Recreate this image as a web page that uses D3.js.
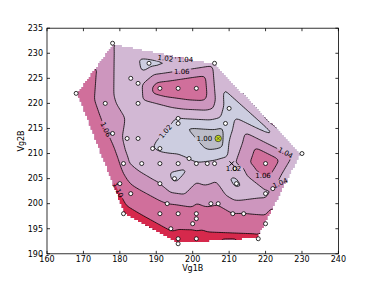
<!DOCTYPE html>
<html>
<head>
<meta charset="utf-8">
<script src="https://cdn.jsdelivr.net/npm/d3@7"></script>
<style>
  body { margin: 0; background: #fff; }
  text { font-family: "DejaVu Sans", sans-serif; }
</style>
</head>
<body>
<div id="chart"></div>
<script>
var vg1 = [178, 168, 188, 183, 185, 191, 196, 201, 206, 176, 185, 196, 196, 178, 182, 185, 210, 209, 189, 191,
           207, 186, 181, 191, 196, 199, 201, 204, 206, 195, 191, 180, 183, 193, 181, 191, 196, 201, 201, 200,
           194, 196, 196, 201, 205, 207, 211, 214, 220, 218, 210.7, 211.6, 212, 220, 230, 220, 222];
var vg2 = [232, 222, 228, 225, 224, 223, 223, 223, 228, 220, 220, 217, 216, 214, 213, 213, 219, 216, 211, 211,
           213, 208, 208, 208, 208, 209, 208, 208, 208, 205, 204, 204, 202, 200, 198, 198, 198, 198, 197, 196,
           195, 193, 192, 193, 200, 200, 198, 198, 196, 193, 208, 207, 204, 208, 210, 202, 203];
var ratio = [1.041, 1.085, 1.012, 1.03, 1.032, 1.075, 1.08, 1.085, 1.035, 1.045, 1.03, 1.02, 1.004, 1.05, 1.035, 1.028, 1.008, 1.007, 1.02, 1.018,
             0.982, 1.03, 1.045, 1.028, 1.025, 1.02, 1.022, 1.024, 1.026, 1.015, 1.04, 1.085, 1.07, 1.06, 1.12, 1.075, 1.075, 1.07, 1.075, 1.09,
             1.095, 1.115, 1.12, 1.115, 1.055, 1.058, 1.06, 1.06, 1.07, 1.11, 1.035, 1.025, 1.015, 1.082, 1.025, 1.035, 1.04];
// marker kind per point: 0 circle, 1 highlighted, 2 cross
var kind = vg1.map(function() { return 0 });
kind[20] = 1;
kind[50] = 2;

var levels = [1.00, 1.02, 1.04, 1.06, 1.10];
var bandColors = ["#bcbcc8", "#cccde0", "#d2b8d4", "#cd96be", "#d06f9b", "#d6294c"];

// contour labels: level, rough Vg1B, rough Vg2B
var labLevel = [1.02, 1.04, 1.06, 1.02, 1.00, 1.06, 1.10, 1.04, 1.06, 1.04, 1.02];
var labX = [192.5, 197.6, 197, 191.8, 203.2, 176, 179.5, 225.6, 219.7, 224.2, 211.2];
var labY = [229, 227.8, 226.3, 215, 212.9, 214.7, 202.7, 210.5, 206.1, 203.2, 207];

var xTicks = d3.range(160, 241, 10);
var yTicks = d3.range(190, 236, 5);

var width = 376, height = 282;
var x = d3.scaleLinear().domain([160, 240]).range([47, 338.4]);
var y = d3.scaleLinear().domain([190, 235]).range([253.8, 28.2]);

var svg = d3.select("#chart").append("svg")
  .attr("width", width)
  .attr("height", height);

var pts = vg1.map(function(d, i) { return [d, vg2[i], ratio[i]] });
var delaunay = d3.Delaunay.from(pts, function(d) { return d[0] }, function(d) { return d[1] });
var tri = delaunay.triangles;

function interp(px, py) {
  for (var t = 0; t < tri.length; t += 3) {
    var a = pts[tri[t]], b = pts[tri[t + 1]], c = pts[tri[t + 2]];
    var det = (b[1] - c[1]) * (a[0] - c[0]) + (c[0] - b[0]) * (a[1] - c[1]);
    if (Math.abs(det) < 1e-12) continue;
    var l1 = ((b[1] - c[1]) * (px - c[0]) + (c[0] - b[0]) * (py - c[1])) / det;
    var l2 = ((c[1] - a[1]) * (px - c[0]) + (a[0] - c[0]) * (py - c[1])) / det;
    var l3 = 1 - l1 - l2;
    if (l1 >= -1e-9 && l2 >= -1e-9 && l3 >= -1e-9) return l1 * a[2] + l2 * b[2] + l3 * c[2];
  }
  return null;
}

// regular grid over the data, masked outside the hull
var gx0 = 164, gy0 = 188, dx = 0.5, dy = 0.4;
var nx = 141, ny = 121;
var grid = new Array(nx * ny), inside = new Uint8Array(nx * ny);
for (var j = 0; j < ny; j++) {
  for (var i = 0; i < nx; i++) {
    var px = gx0 + i * dx, py = gy0 + j * dy;
    var v = interp(px, py);
    if (v === null) {
      v = pts[delaunay.find(px, py)][2];
    } else {
      inside[i + j * nx] = 1;
    }
    grid[i + j * nx] = v;
  }
}

// light smoothing so the lines round off a bit
function blur(g) {
  var out = g.slice();
  for (var pass = 0; pass < 2; pass++) {
    var tmp = out.slice();
    for (var j = 0; j < ny; j++) for (var i = 1; i < nx - 1; i++) {
      var k = i + j * nx;
      tmp[k] = (out[k - 1] + 2 * out[k] + out[k + 1]) / 4;
    }
    for (var j = 1; j < ny - 1; j++) for (var i = 0; i < nx; i++) {
      var k = i + j * nx;
      out[k] = (tmp[k - nx] + 2 * tmp[k] + tmp[k + nx]) / 4;
    }
  }
  return out;
}
grid = blur(grid);

function gxPix(c) { return x(gx0 + c * dx) }
function gyPix(c) { return y(gy0 + c * dy) }

var proj = d3.geoTransform({
  point: function(cx, cy) { this.stream.point(gxPix(cx - 0.5), gyPix(cy - 0.5)) }
});
var path = d3.geoPath(proj);

// clip made of the unmasked cells
var clipD = "";
for (var j = 0; j < ny - 1; j++) {
  var start = -1;
  for (var i = 0; i <= nx - 1; i++) {
    var ok = i < nx - 1 && inside[i + j * nx] && inside[i + 1 + j * nx] &&
      inside[i + (j + 1) * nx] && inside[i + 1 + (j + 1) * nx];
    if (ok && start < 0) start = i;
    if (!ok && start >= 0) {
      var x0 = gxPix(start), x1 = gxPix(i), y0 = gyPix(j + 1), y1 = gyPix(j);
      clipD += "M" + x0 + "," + (y0 - 0.3) + "H" + x1 + "V" + (y1 + 0.3) + "H" + x0 + "Z";
      start = -1;
    }
  }
}

var defs = svg.append("defs");
defs.append("clipPath").attr("id", "hull")
  .append("path").attr("d", clipD);

var contours = d3.contours().size([nx, ny]).thresholds(levels)(grid);

var plot = svg.append("g").attr("clip-path", "url(#hull)");

plot.append("rect")
  .attr("x", 40).attr("y", 20).attr("width", 310).attr("height", 240)
  .attr("fill", bandColors[0]);

plot.selectAll(".band")
  .data(contours)
  .enter().append("path")
  .attr("class", "band")
  .attr("d", path)
  .attr("fill", function(d, i) { return bandColors[i + 1] });

// label placement: rotate along the nearest stretch of the matching contour
function ringPoints(mp) {
  var rings = [];
  mp.coordinates.forEach(function(poly) {
    poly.forEach(function(r) {
      rings.push(r.map(function(p) { return [gxPix(p[0] - 0.5), gyPix(p[1] - 0.5)] }));
    });
  });
  return rings;
}

var labels = labLevel.map(function(lv, k) {
  var c = contours[levels.indexOf(lv)];
  var tx = x(labX[k]), ty = y(labY[k]);
  var best = null, bd = Infinity;
  ringPoints(c).forEach(function(r) {
    r.forEach(function(p, n) {
      var d = (p[0] - tx) * (p[0] - tx) + (p[1] - ty) * (p[1] - ty);
      if (d < bd) { bd = d; best = [r, n]; }
    });
  });
  var lx = tx, ly = ty, ang = 0;
  if (best) {
    var r = best[0], n = best[1], m = r.length;
    var p0 = r[(n - 3 + m) % m], p1 = r[(n + 3) % m];
    ang = Math.atan2(p1[1] - p0[1], p1[0] - p0[0]) * 180 / Math.PI;
    if (ang > 90) ang -= 180;
    if (ang < -90) ang += 180;
    if (bd < 25) { lx = r[n][0]; ly = r[n][1]; }
    if (m < 120) ang = 0;
  }
  return { text: lv.toFixed(2), x: lx, y: ly, angle: ang };
});

var mask = defs.append("mask").attr("id", "gaps");
mask.append("rect").attr("x", 0).attr("y", 0).attr("width", width).attr("height", height).attr("fill", "#fff");
mask.selectAll("rect.gap")
  .data(labels)
  .enter().append("rect")
  .attr("class", "gap")
  .attr("x", -9.5).attr("y", -3.5).attr("width", 19).attr("height", 7)
  .attr("fill", "#000")
  .attr("transform", function(d) { return "translate(" + d.x + "," + d.y + ") rotate(" + d.angle + ")" });

plot.append("g").attr("mask", "url(#gaps)")
  .selectAll(".line")
  .data(contours)
  .enter().append("path")
  .attr("class", "line")
  .attr("d", path)
  .attr("fill", "none")
  .attr("stroke", "#000")
  .attr("stroke-width", 0.8);

// measured points
var marks = svg.append("g");
pts.forEach(function(p, i) {
  var cx = x(p[0]), cy = y(p[1]);
  if (kind[i] === 2) {
    marks.append("path")
      .attr("d", "M" + (cx - 2.2) + "," + (cy - 2.2) + "L" + (cx + 2.2) + "," + (cy + 2.2) +
        "M" + (cx - 2.2) + "," + (cy + 2.2) + "L" + (cx + 2.2) + "," + (cy - 2.2))
      .attr("stroke", "#000").attr("stroke-width", 1);
  } else if (kind[i] === 1) {
    marks.append("circle").attr("cx", cx).attr("cy", cy).attr("r", 3.2)
      .attr("fill", "#c6dc1c").attr("stroke", "#333").attr("stroke-width", 0.8);
    marks.append("path")
      .attr("d", "M" + (cx - 1.4) + "," + (cy - 1.4) + "L" + (cx + 1.4) + "," + (cy + 1.4) +
        "M" + (cx - 1.4) + "," + (cy + 1.4) + "L" + (cx + 1.4) + "," + (cy - 1.4))
      .attr("stroke", "#333").attr("stroke-width", 0.7);
  } else {
    marks.append("circle").attr("cx", cx).attr("cy", cy).attr("r", 2)
      .attr("fill", "#fff").attr("stroke", "#000").attr("stroke-width", 0.8);
  }
});

svg.selectAll(".clabel")
  .data(labels)
  .enter().append("text")
  .attr("class", "clabel")
  .attr("transform", function(d) { return "translate(" + d.x + "," + d.y + ") rotate(" + d.angle + ")" })
  .attr("text-anchor", "middle")
  .attr("dy", "0.35em")
  .attr("font-size", 7)
  .text(function(d) { return d.text });

// frame and ticks (matplotlib style, inward on all sides)
var axes = svg.append("g").attr("stroke", "#000").attr("stroke-width", 0.8);
axes.append("rect")
  .attr("x", 47).attr("y", 28.2).attr("width", 291.4).attr("height", 225.6)
  .attr("fill", "none");
xTicks.forEach(function(t) {
  axes.append("line").attr("x1", x(t)).attr("x2", x(t)).attr("y1", 253.8).attr("y2", 250.8);
  axes.append("line").attr("x1", x(t)).attr("x2", x(t)).attr("y1", 28.2).attr("y2", 31.2);
});
yTicks.forEach(function(t) {
  axes.append("line").attr("x1", 47).attr("x2", 50).attr("y1", y(t)).attr("y2", y(t));
  axes.append("line").attr("x1", 338.4).attr("x2", 335.4).attr("y1", y(t)).attr("y2", y(t));
});

svg.selectAll(".xt")
  .data(xTicks)
  .enter().append("text")
  .attr("x", function(d) { return x(d) })
  .attr("y", 262)
  .attr("text-anchor", "middle")
  .attr("font-size", 8)
  .text(function(d) { return d });

svg.selectAll(".yt")
  .data(yTicks)
  .enter().append("text")
  .attr("x", 43)
  .attr("y", function(d) { return y(d) })
  .attr("dy", "0.35em")
  .attr("text-anchor", "end")
  .attr("font-size", 8)
  .text(function(d) { return d });

svg.append("text")
  .attr("x", 192.7).attr("y", 271)
  .attr("text-anchor", "middle")
  .attr("font-size", 8)
  .text("Vg1B");

svg.append("text")
  .attr("transform", "translate(24,141) rotate(-90)")
  .attr("text-anchor", "middle")
  .attr("font-size", 8)
  .text("Vg2B");
</script>
</body>
</html>
